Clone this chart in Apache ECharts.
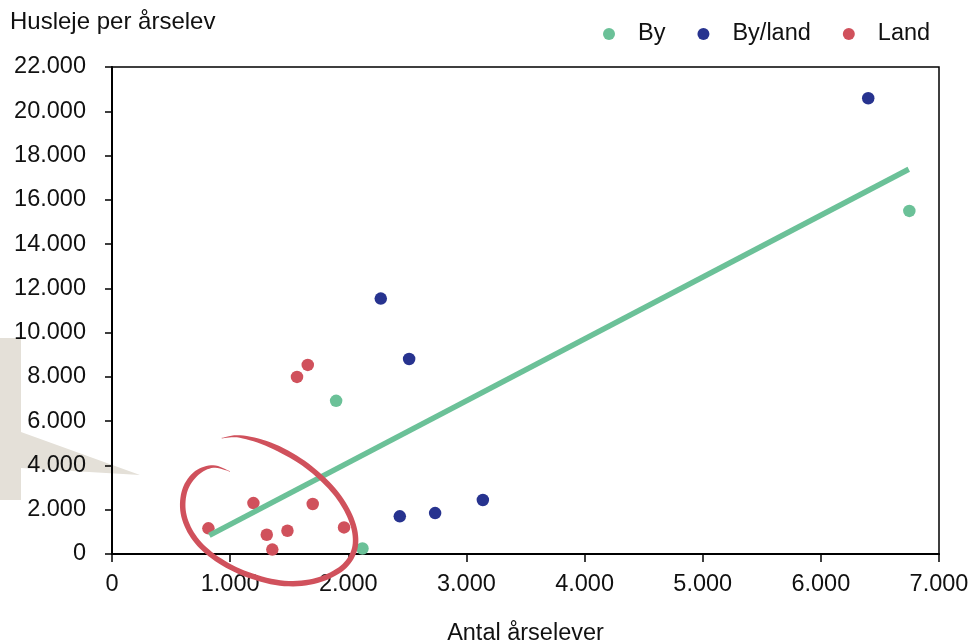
<!DOCTYPE html>
<html>
<head>
<meta charset="utf-8">
<script src="https://cdn.jsdelivr.net/npm/echarts@6/dist/echarts.min.js"></script>
<style>
    html, body { margin: 0; padding: 0; background: #fff; }
    #chart { width: 971px; height: 643px; }
</style>
</head>
<body>
<div id="chart"></div>
<script>
// data: [antal årselever, husleje per årselev]
var byPoints = [[1897, 6920], [2120, 250], [6749, 15500]];
var byLandPoints = [[2275, 11540], [2515, 8810], [2436, 1700], [2735, 1850], [3139, 2440], [6401, 20590]];
var landPoints = [[1566, 8000], [1657, 8540], [1197, 2300], [1699, 2260], [816, 1160], [1310, 870], [1485, 1050], [1964, 1200], [1357, 200]];
var trendLine = [[824, 840], [6744, 17380]];

var seriesNames = ['By', 'By/land', 'Land'];
var colors = ['#6bc198', '#27338f', '#d0515c'];

// hand drawn ring round the Land points, in data units
var ringPath = [[999, 3727], [857, 3953], [717, 3655], [618, 2902], [604, 1850], [688, 794], [857, -108],
    [1111, -857], [1422, -1309], [1704, -1236], [1930, -708], [2042, 45], [2057, 948], [1987, 1999],
    [1845, 3051], [1619, 4106], [1337, 4932], [1083, 5307], [929, 5235]];

var fontFamily = '"Liberation Sans", Arial, sans-serif';
var fontSize = 23.5;

function thousands(v) {
    return String(v).replace(/\B(?=(\d{3})+(?!\d))/g, '.');
}

var chart = echarts.init(document.getElementById('chart'));

var option = {
    animation: false,
    textStyle: { fontFamily: fontFamily },
    title: {
        text: 'Husleje per årselev',
        left: 5,
        top: 5,
        textStyle: { fontFamily: fontFamily, fontSize: 24, fontWeight: 'normal', color: '#111' }
    },
    legend: {
        data: seriesNames,
        left: 598,
        top: 17,
        icon: 'circle',
        itemWidth: 12,
        itemHeight: 12,
        itemGap: 32,
        textStyle: { fontFamily: fontFamily, fontSize: fontSize, color: '#111', padding: [0, 0, 0, 18] }
    },
    grid: {
        left: 112,
        right: 32,
        top: 67,
        bottom: 89,
        outerBoundsMode: 'none',
        containLabel: false,
        show: true,
        borderColor: '#000',
        borderWidth: 1.5,
        backgroundColor: 'transparent'
    },
    xAxis: {
        type: 'value',
        min: 0,
        max: 7000,
        interval: 1000,
        name: 'Antal årselever',
        nameLocation: 'middle',
        nameGap: 68,
        nameTextStyle: { fontFamily: fontFamily, fontSize: fontSize, color: '#111' },
        axisLine: { lineStyle: { color: '#000', width: 2 } },
        axisTick: { show: true, length: 8, lineStyle: { color: '#000', width: 1.5 } },
        axisLabel: { margin: 19, fontFamily: fontFamily, fontSize: fontSize, color: '#111', formatter: thousands },
        splitLine: { show: false }
    },
    yAxis: {
        type: 'value',
        min: 0,
        max: 22000,
        interval: 2000,
        axisLine: { show: true, lineStyle: { color: '#000', width: 2 } },
        axisTick: { show: true, length: 7, lineStyle: { color: '#000', width: 1.5 } },
        axisLabel: { margin: 26, fontFamily: fontFamily, fontSize: fontSize, color: '#111', formatter: thousands },
        splitLine: { show: false }
    },
    series: [
        {
            name: 'By',
            type: 'scatter',
            data: byPoints,
            symbolSize: 12.5,
            itemStyle: { color: colors[0], opacity: 1 },
            z: 3
        },
        {
            name: 'By/land',
            type: 'scatter',
            data: byLandPoints,
            symbolSize: 12.5,
            itemStyle: { color: colors[1], opacity: 1 },
            z: 3
        },
        {
            name: 'Land',
            type: 'scatter',
            data: landPoints,
            symbolSize: 12.5,
            itemStyle: { color: colors[2], opacity: 1 },
            z: 3
        },
        {
            name: 'Trend',
            type: 'line',
            data: trendLine,
            showSymbol: false,
            symbol: 'none',
            lineStyle: { color: colors[0], width: 5.5, cap: 'butt' },
            z: 4
        }
    ]
};
chart.setOption(option);

// tapered stroke: catmull-rom through the ring points, then offset both sides
function taperedStroke(pts, maxW) {
    var dense = [];
    for (var i = 0; i < pts.length - 1; i++) {
        var p0 = pts[Math.max(i - 1, 0)], p1 = pts[i], p2 = pts[i + 1], p3 = pts[Math.min(i + 2, pts.length - 1)];
        for (var s = 0; s < 8; s++) {
            var t = s / 8, t2 = t * t, t3 = t2 * t;
            dense.push([
                0.5 * (2 * p1[0] + (-p0[0] + p2[0]) * t + (2 * p0[0] - 5 * p1[0] + 4 * p2[0] - p3[0]) * t2 + (-p0[0] + 3 * p1[0] - 3 * p2[0] + p3[0]) * t3),
                0.5 * (2 * p1[1] + (-p0[1] + p2[1]) * t + (2 * p0[1] - 5 * p1[1] + 4 * p2[1] - p3[1]) * t2 + (-p0[1] + 3 * p1[1] - 3 * p2[1] + p3[1]) * t3)
            ]);
        }
    }
    dense.push(pts[pts.length - 1]);
    var left = [], right = [];
    var n = dense.length;
    for (var k = 0; k < n; k++) {
        var a = dense[Math.max(k - 1, 0)], b = dense[Math.min(k + 1, n - 1)];
        var dx = b[0] - a[0], dy = b[1] - a[1];
        var len = Math.sqrt(dx * dx + dy * dy) || 1;
        var u = k / (n - 1);
        var w = maxW * Math.min(1, u / 0.12, (1 - u) / 0.12) / 2;
        w = Math.max(w, 0.3);
        left.push([dense[k][0] - dy / len * w, dense[k][1] + dx / len * w]);
        right.push([dense[k][0] + dy / len * w, dense[k][1] - dx / len * w]);
    }
    return left.concat(right.reverse());
}

var ringPx = ringPath.map(function (p) {
    return chart.convertToPixel({ gridIndex: 0 }, p);
});

chart.setOption({
    graphic: [
        {
            // grey callout shape behind the axis labels
            type: 'polygon',
            z: -10,
            silent: true,
            shape: { points: [[0, 338], [21, 338], [21, 432], [140, 475], [21, 468], [21, 500], [0, 500]] },
            style: { fill: '#e4e0d8' }
        },
        {
            type: 'polygon',
            z: 100,
            silent: true,
            shape: { points: taperedStroke(ringPx, 5.5) },
            style: { fill: colors[2] }
        }
    ]
});
</script>
</body>
</html>
